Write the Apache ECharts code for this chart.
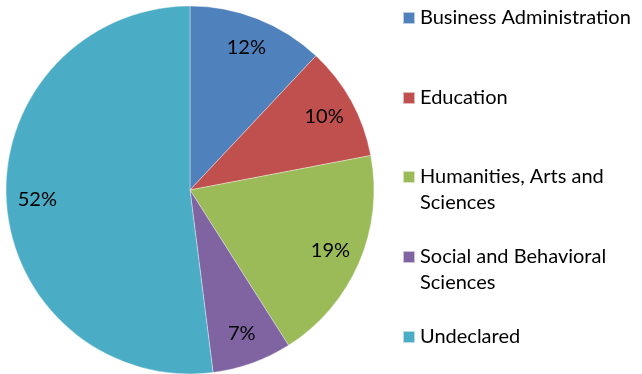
<!DOCTYPE html>
<html>
<head>
<meta charset="utf-8">
<script src="https://cdn.jsdelivr.net/npm/echarts@6/dist/echarts.min.js"></script>
<style>
  html, body { margin: 0; padding: 0; background: #fff; }
  #chart { width: 642px; height: 374px; }
</style>
</head>
<body>
<div id="chart"></div>
<script>
// Enrollment share by college
const categories = [
  'Business Administration',
  'Education',
  'Humanities, Arts and Sciences',
  'Social and Behavioral Sciences',
  'Undeclared'
];
const legendLabels = [
  'Business Administration',
  'Education',
  'Humanities, Arts and\nSciences',
  'Social and Behavioral\nSciences',
  'Undeclared'
];
const shares = [12, 10, 19, 7, 52];
const colors = ['#4F81BD', '#C0504D', '#9BBB59', '#8064A2', '#4BACC6'];

const FONT = 'Lato, sans-serif';
const center = [190, 190];
const R = 184;

const data = categories.map((name, i) => ({
  name,
  value: shares[i],
  itemStyle: { color: colors[i] }
}));

// top offsets of each legend entry
const legendTops = [5, 85, 138, 218, 324];

const legends = categories.map((name, i) => {
  const twoLine = legendLabels[i].indexOf('\n') >= 0;
  // a leading empty line keeps the swatch level with the first text line
  const text = twoLine ? '\n' + legendLabels[i] : legendLabels[i];
  return {
    orient: 'vertical',
    left: 402,
    top: legendTops[i],
    padding: 0,
    itemWidth: 12,
    itemHeight: 12,
    icon: 'rect',
    selectedMode: false,
    data: [name],
    formatter: () => text,
    textStyle: {
      fontFamily: FONT,
      fontSize: 20,
      color: '#000',
      lineHeight: 26
    }
  };
});

const chart = echarts.init(document.getElementById('chart'));
chart.setOption({
  animation: false,
  legend: legends,
  series: [
    {
      type: 'pie',
      center,
      radius: [0, R],
      startAngle: 90,
      clockwise: true,
      label: { show: false },
      labelLine: { show: false },
      itemStyle: { borderColor: 'rgba(255,255,255,0.6)', borderWidth: 0.6 },
      emphasis: { disabled: true },
      data
    },
    {
      // transparent ring carrying the percentage labels
      type: 'pie',
      center,
      radius: [116, R],
      startAngle: 90,
      clockwise: true,
      silent: true,
      legendHoverLink: false,
      itemStyle: { color: 'rgba(0,0,0,0)' },
      label: {
        show: true,
        position: 'inside',
        formatter: p => p.value + '%',
        fontFamily: FONT,
        fontSize: 20,
        color: '#000'
      },
      labelLine: { show: false },
      emphasis: { disabled: true },
      data: categories.map((name, i) => ({ name, value: shares[i] }))
    }
  ]
});
</script>
</body>
</html>
